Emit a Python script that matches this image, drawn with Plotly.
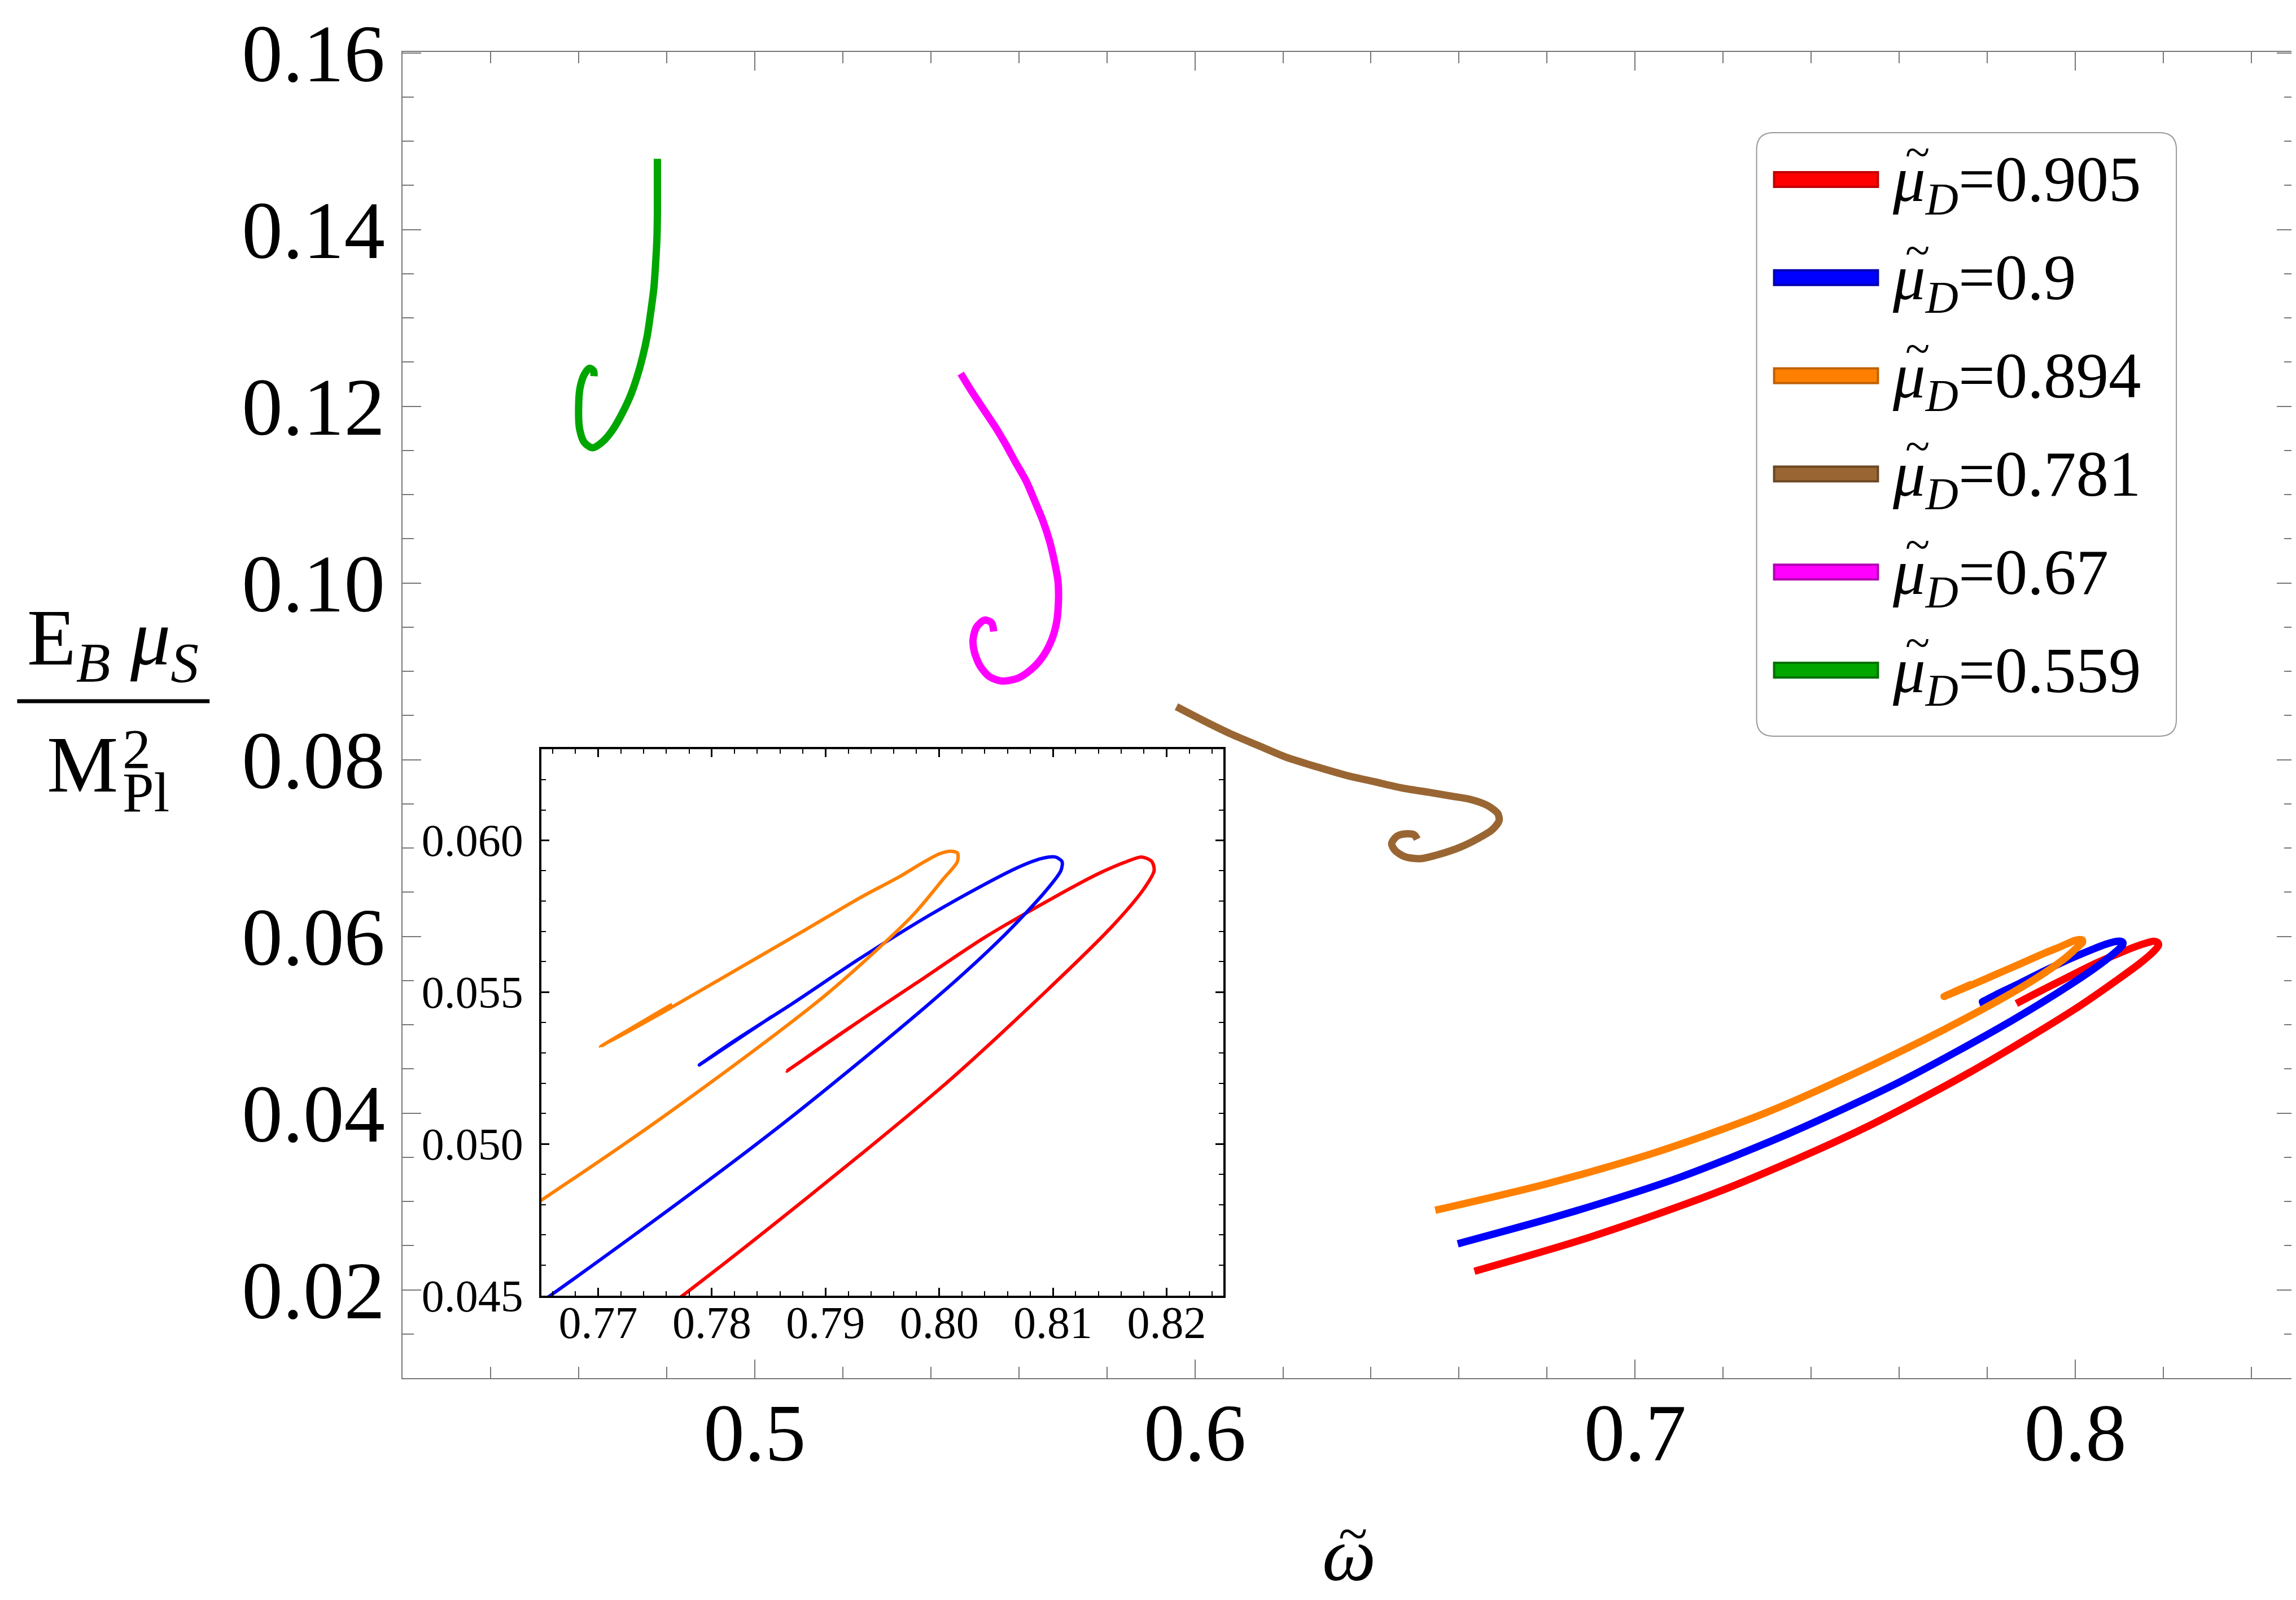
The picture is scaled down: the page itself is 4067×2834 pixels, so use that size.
import plotly.graph_objects as go

# ---- data ----
mu_labels = ["0.905", "0.9", "0.894", "0.781", "0.67", "0.559"]
colors = ["#FF0000", "#0000FF", "#FF8000", "#996633", "#FF00FF", "#00A600"]
borders = ["#C00000", "#0000B0", "#C06000", "#6B4724", "#B000B0", "#007000"]

w_905 = [0.6635, 0.690, 0.720, 0.750, 0.776, 0.800, 0.8096, 0.8153, 0.8180, 0.8189,
         0.8187, 0.8178, 0.8165, 0.8140, 0.8100, 0.8040, 0.7980, 0.7920, 0.7866,
         0.7928]
e_905 = [0.0221, 0.0260, 0.0313, 0.0378, 0.0446, 0.0518, 0.0551, 0.0572, 0.0584,
         0.0590, 0.0593, 0.05945, 0.0593, 0.0589, 0.0581, 0.0568, 0.0553, 0.0538,
         0.0524, 0.0540]

w_900 = [0.6597, 0.685, 0.710, 0.735, 0.760, 0.785, 0.800, 0.8058, 0.8093, 0.8107,
         0.8108, 0.8102, 0.8090, 0.8070, 0.8040, 0.7990, 0.7930, 0.7870, 0.7820,
         0.7789, 0.7853]
e_900 = [0.0252, 0.0287, 0.0327, 0.0377, 0.0435, 0.0503, 0.0549, 0.0569, 0.0583,
         0.0590, 0.0593, 0.05945, 0.0594, 0.05912, 0.05855, 0.0575, 0.0561, 0.0546,
         0.0534, 0.0526, 0.0542]

w_894 = [0.6546, 0.680, 0.705, 0.730, 0.755, 0.775, 0.790, 0.7976, 0.8003, 0.8016,
         0.8016, 0.8010, 0.8000, 0.7985, 0.7965, 0.7930, 0.7880, 0.7820, 0.7760,
         0.7702, 0.7765]
e_894 = [0.0290, 0.0320, 0.0356, 0.0401, 0.0457, 0.0507, 0.0549, 0.0575, 0.0587,
         0.0593, 0.05958, 0.05964, 0.05955, 0.05925, 0.0588, 0.0581, 0.0570, 0.0557,
         0.0544, 0.0532, 0.0546]

w_781 = [0.5958, 0.6020, 0.6082, 0.6144, 0.6206, 0.6276, 0.6346, 0.6408, 0.6470,
         0.6532, 0.6579, 0.6626, 0.6665, 0.6688, 0.6691, 0.6676, 0.6644, 0.6603,
         0.6556, 0.6514, 0.6478, 0.6455, 0.6447, 0.6458, 0.6478, 0.6498, 0.6505]
e_781 = [0.0860, 0.0844, 0.0829, 0.0816, 0.0803, 0.0792, 0.0782, 0.0775, 0.0768,
         0.0763, 0.0759, 0.0755, 0.0748, 0.0739, 0.0731, 0.0721, 0.0711, 0.0701,
         0.0693, 0.0688, 0.0690, 0.0697, 0.0705, 0.0713, 0.0716, 0.0715, 0.0710]

w_670 = [0.5468, 0.5494, 0.5522, 0.5546, 0.5569, 0.5592, 0.5616, 0.5636, 0.5655,
         0.5670, 0.5681, 0.5689, 0.5690, 0.5686, 0.5675, 0.5655, 0.5628, 0.5597,
         0.5561, 0.5533, 0.5512, 0.5499, 0.5496, 0.5504, 0.5522, 0.5538, 0.5543]
e_670 = [0.1237, 0.1216, 0.1195, 0.1177, 0.1158, 0.1137, 0.1116, 0.1093, 0.1070,
         0.1047, 0.1024, 0.1002, 0.0979, 0.0956, 0.0936, 0.0917, 0.0902, 0.0892,
         0.0889, 0.0894, 0.0906, 0.0922, 0.0936, 0.0950, 0.0958, 0.0955, 0.0945]

w_559 = [0.4779, 0.4779, 0.4778, 0.4775, 0.4771, 0.4764, 0.4756, 0.4745, 0.4732,
         0.4717, 0.4698, 0.4677, 0.4655, 0.4632, 0.4613, 0.4602, 0.4600, 0.4603,
         0.4613, 0.4625, 0.4634, 0.4635]
e_559 = [0.1480, 0.1421, 0.1391, 0.1362, 0.1334, 0.1307, 0.1280, 0.1255, 0.1232,
         0.1211, 0.1191, 0.1173, 0.1160, 0.1153, 0.1159, 0.1175, 0.1198, 0.1220,
         0.1236, 0.1243, 0.1240, 0.1234]

series_w = [w_905, w_900, w_894, w_781, w_670, w_559]
series_e = [e_905, e_900, e_894, e_781, e_670, e_559]

# ---- page geometry (pixels) ----
W, H = 4067, 2834
PL, PR, PT, PB = 705, 4060, 84, 2433


def fx(px):
    return (px - PL) / (PR - PL)


def fy(py):
    return (PB - py) / (PB - PT)


FONT = "Liberation Serif"
GRAY = "#777777"

fig = go.Figure()

for i in range(6):
    fig.add_trace(go.Scatter(
        x=series_w[i], y=series_e[i], mode="lines",
        line=dict(color=colors[i], width=13, shape="spline", smoothing=0.8),
        showlegend=False, xaxis="x", yaxis="y"))

# inset: the three upper curves
for i in range(3):
    fig.add_trace(go.Scatter(
        x=series_w[i], y=series_e[i], mode="lines",
        line=dict(color=colors[i], width=6, shape="spline", smoothing=0.8),
        showlegend=False, xaxis="x2", yaxis="y2"))

main_ax = dict(showgrid=False, zeroline=False, showline=True, linecolor=GRAY,
               linewidth=2, mirror="ticks", ticks="inside", ticklen=33,
               tickwidth=2, tickcolor=GRAY,
               tickfont=dict(family=FONT, size=145, color="black"))
inset_ax = dict(showgrid=False, zeroline=False, showline=True, linecolor="black",
                linewidth=4, mirror="ticks", ticks="inside", ticklen=14,
                tickwidth=3, tickcolor="black",
                tickfont=dict(family=FONT, size=80, color="black"))

fig.update_layout(
    width=W, height=H,
    margin=dict(l=PL, r=W - PR, t=PT, b=H - PB),
    plot_bgcolor="white", paper_bgcolor="white",
    font=dict(family=FONT, color="black"),
    showlegend=False,
    xaxis=dict(main_ax, range=[0.42, 0.85], dtick=0.1, tick0=0, tickformat=".1f",
               ticklabelstandoff=-30,
               minor=dict(dtick=0.02, tick0=0, ticklen=20, tickwidth=2,
                          tickcolor=GRAY, ticks="inside")),
    yaxis=dict(main_ax, range=[0.01, 0.1601], dtick=0.02, tick0=0, tickformat=".2f",
               ticklabelstandoff=0,
               minor=dict(dtick=0.005, tick0=0, ticklen=20, tickwidth=2,
                          tickcolor=GRAY, ticks="inside")),
    xaxis2=dict(inset_ax, domain=[fx(951), fx(2160)], anchor="y2",
                range=[0.765, 0.825], dtick=0.01, tick0=0, tickformat=".2f",
                ticklabelstandoff=-25,
                minor=dict(dtick=0.002, tick0=0, ticklen=8, tickwidth=2,
                           tickcolor="black", ticks="inside")),
    yaxis2=dict(inset_ax, domain=[fy(2287), fy(1319)], anchor="x2",
                range=[0.045, 0.063], dtick=0.005, tick0=0, tickformat=".3f",
                ticklabelstandoff=12,
                minor=dict(dtick=0.001, tick0=0, ticklen=8, tickwidth=2,
                           tickcolor="black", ticks="inside")),
)

shapes = []
annotations = []


def note(px, py, text, size, xanchor="center", yanchor="middle"):
    annotations.append(dict(
        xref="paper", yref="paper", x=fx(px), y=fy(py), xanchor=xanchor,
        yanchor=yanchor, showarrow=False, text=text, borderpad=0,
        font=dict(family=FONT, size=size, color="black")))


# legend box with rounded corners
x0, x1, y0, y1 = fx(3105), fx(3849), fy(1296), fy(227)
rx, ry = 30 / (PR - PL), 30 / (PB - PT)
path = (f"M{x0 + rx},{y1} L{x1 - rx},{y1} Q{x1},{y1} {x1},{y1 - ry} "
        f"L{x1},{y0 + ry} Q{x1},{y0} {x1 - rx},{y0} L{x0 + rx},{y0} "
        f"Q{x0},{y0} {x0},{y0 + ry} L{x0},{y1 - ry} Q{x0},{y1} {x0 + rx},{y1} Z")
shapes.append(dict(type="path", xref="paper", yref="paper", path=path,
                   line=dict(color="#999999", width=2), fillcolor="white"))

for i in range(6):
    cy = 310 + i * 173.8
    shapes.append(dict(type="rect", xref="paper", yref="paper",
                       x0=fx(3136), x1=fx(3320), y0=fy(cy + 13), y1=fy(cy - 13),
                       fillcolor=colors[i], line=dict(color=borders[i], width=4)))
    note(3345, cy + 8, f"<i>μ</i><sub><i>D</i></sub>={mu_labels[i]}", 115,
         xanchor="left")
    note(3390, cy - 48, "~", 80)

# y-axis title as a fraction
note(192, 1222, "E<sub><i>B</i></sub> <i>μ</i><sub><i>S</i></sub>", 142,
     yanchor="bottom")
shapes.append(dict(type="line", xref="paper", yref="paper",
                   x0=fx(22), x1=fx(363), y0=fy(1234), y1=fy(1234),
                   line=dict(color="black", width=7)))
note(202, 1266, "M", 142, xanchor="right", yanchor="top")
note(208, 1262, "2", 100, xanchor="left", yanchor="top")
note(208, 1452, "Pl", 100, xanchor="left", yanchor="bottom")

# x-axis title
note(2382, 2745, "<i>ω</i>", 135)
note(2390, 2708, "~", 95)

fig.update_layout(shapes=shapes, annotations=annotations)

fig.write_html("out.html")
